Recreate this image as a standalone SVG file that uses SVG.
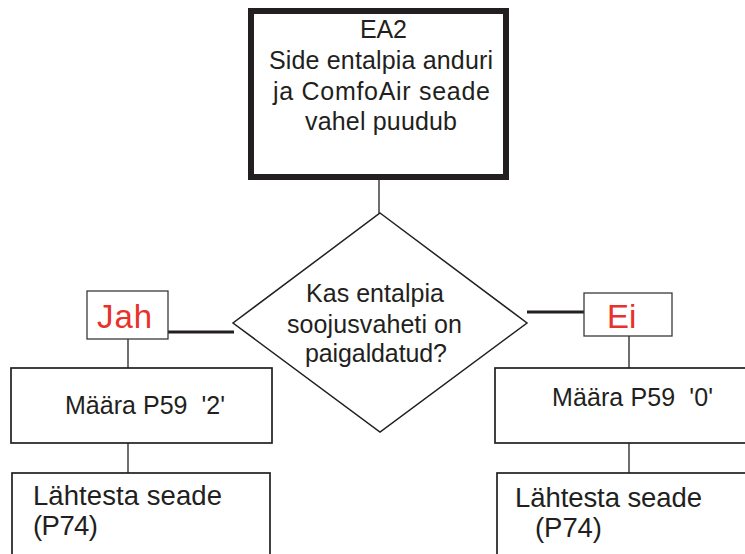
<svg xmlns="http://www.w3.org/2000/svg" width="745" height="554" viewBox="0 0 745 554">
<style>
text{font-family:"Liberation Sans",Arial,sans-serif;fill:#231f20}
.box{fill:#fff;stroke:#231f20;stroke-width:1.7}
.lbl{fill:#fff;stroke:#3a3a3a;stroke-width:1.3}
.red{fill:#e8312a;font-size:33px}
.c{stroke:#231f20;stroke-width:1.3;fill:none}
.t{stroke:#231f20;stroke-width:3;fill:none}
</style>
<rect width="745" height="554" fill="#fff"/>
<g id="connectors">
<line class="c" x1="379" y1="180" x2="379" y2="213"/>
<line class="t" x1="168" y1="332" x2="234" y2="332"/>
<line class="t" x1="527" y1="312" x2="584" y2="312"/>
<line class="c" x1="128" y1="339" x2="128" y2="368"/>
<line class="c" x1="128" y1="443" x2="128" y2="473"/>
<line class="c" x1="629" y1="336" x2="629" y2="368"/>
<line class="c" x1="629" y1="443" x2="629" y2="473"/>
</g>
<g id="start">
<rect x="251" y="11" width="255" height="166" fill="#fff" stroke="#231f20" stroke-width="6"/>
<text font-size="25" lengthAdjust="spacingAndGlyphs"><tspan x="360" y="38" textLength="47">EA2</tspan><tspan x="269" y="69" textLength="224">Side entalpia anduri</tspan><tspan x="273" y="100" textLength="217">ja ComfoAir seade</tspan><tspan x="305" y="130" textLength="152">vahel puudub</tspan></text>
</g>
<g id="decision">
<polygon points="380,213 527,323 380,432 233,323" fill="#fff" stroke="#231f20" stroke-width="1.5"/>
<text font-size="25"><tspan x="306" y="302" textLength="138">Kas entalpia</tspan><tspan x="287" y="333" textLength="175">soojusvaheti on</tspan><tspan x="305" y="362" textLength="142">paigaldatud?</tspan></text>
</g>
<g id="jah">
<rect class="lbl" x="87" y="291" width="81" height="48"/>
<text class="red" x="97" y="328" textLength="55">Jah</text>
</g>
<g id="ei">
<rect class="lbl" x="584" y="293" width="88" height="43"/>
<text class="red" x="607" y="328">Ei</text>
</g>
<g id="set2">
<rect class="box" x="11" y="368" width="261" height="75"/>
<text x="65" y="414" font-size="25" xml:space="preserve" textLength="160">Määra P59  '2'</text>
</g>
<g id="set0">
<rect class="box" x="495" y="368" width="260" height="75"/>
<text x="552" y="406" font-size="25" xml:space="preserve" textLength="161">Määra P59  '0'</text>
</g>
<g id="reset-left">
<rect class="box" x="12" y="473" width="258" height="100"/>
<text font-size="27.5"><tspan x="33" y="505" textLength="189">Lähtesta seade</tspan><tspan x="33" y="535" textLength="65">(P74)</tspan></text>
</g>
<g id="reset-right">
<rect class="box" x="497" y="473" width="260" height="100"/>
<text font-size="27.5"><tspan x="515" y="507" textLength="187">Lähtesta seade</tspan><tspan x="535" y="537" textLength="67">(P74)</tspan></text>
</g>
</svg>
